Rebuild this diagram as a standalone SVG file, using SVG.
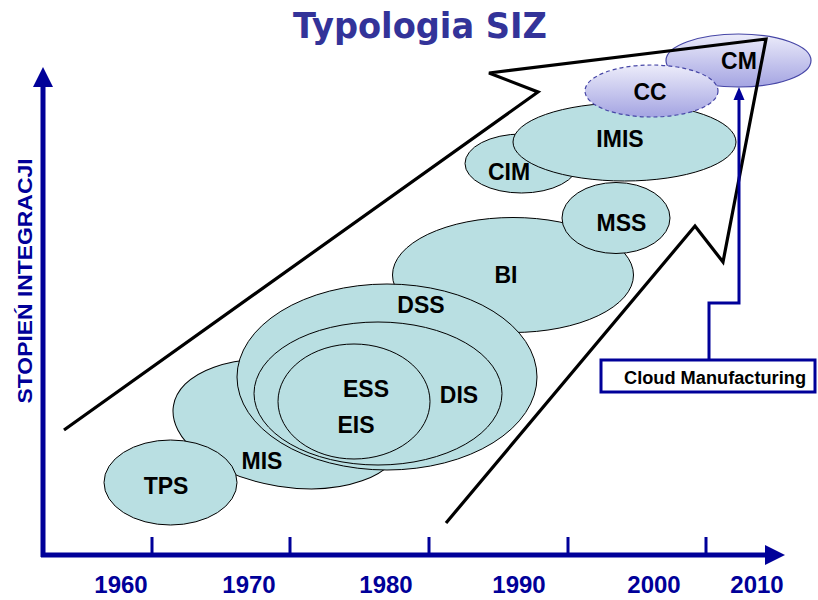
<svg xmlns="http://www.w3.org/2000/svg" width="818" height="600" viewBox="0 0 818 600">
  <defs>
    <linearGradient id="lav" x1="0" y1="0" x2="0" y2="1">
      <stop offset="0" stop-color="#ececfa"/>
      <stop offset="1" stop-color="#a4a4e2"/>
    </linearGradient>
    <marker id="arrowBlue" viewBox="0 0 10 10" refX="9" refY="5" markerWidth="4" markerHeight="4" orient="auto" markerUnits="strokeWidth">
      <path d="M0,0 L10,5 L0,10 z" fill="#000099"/>
    </marker>
    <style>
      .sys { fill: #b9dfe2; stroke: #000; stroke-width: 1; }
      .lav { fill: url(#lav); stroke: #4646a6; stroke-width: 1.2; }
      .lbl { font-family: "Liberation Sans", Arial, sans-serif; font-weight: bold; font-size: 23px; fill: #000; text-anchor: middle; }
      .year { font-family: "Liberation Sans", Arial, sans-serif; font-weight: bold; font-size: 24px; fill: #000099; text-anchor: middle; }
      .axis { stroke: #000099; stroke-width: 5; fill: none; }
      .tick { stroke: #000099; stroke-width: 3; }
    </style>
  </defs>

  <rect width="818" height="600" fill="#fff"/>

  <!-- title -->
  <text x="420" y="38" font-family="'DejaVu Sans', Verdana, sans-serif" font-weight="bold" font-size="35" fill="#333399" text-anchor="middle" textLength="254" lengthAdjust="spacingAndGlyphs">Typologia SIZ</text>

  <!-- axes -->
  <g id="axes">
    <line class="axis" x1="43" y1="557" x2="43" y2="84"/>
    <polygon points="43,67 33,87 53,87" fill="#000099"/>
    <line class="axis" x1="41" y1="555" x2="768" y2="555"/>
    <polygon points="785,555 765,545 765,565" fill="#000099"/>
    <line class="tick" x1="152" y1="537" x2="152" y2="555"/>
    <line class="tick" x1="290" y1="537" x2="290" y2="555"/>
    <line class="tick" x1="429" y1="537" x2="429" y2="555"/>
    <line class="tick" x1="568" y1="537" x2="568" y2="555"/>
    <line class="tick" x1="706" y1="537" x2="706" y2="555"/>
    <text class="year" x="121" y="593">1960</text>
    <text class="year" x="249" y="593">1970</text>
    <text class="year" x="386" y="593">1980</text>
    <text class="year" x="519" y="593">1990</text>
    <text class="year" x="654" y="593">2000</text>
    <text class="year" x="757" y="593">2010</text>
    <text transform="translate(32,281) rotate(-90)" font-family="'Liberation Sans', Arial, sans-serif" font-weight="bold" font-size="21" fill="#000099" text-anchor="middle" textLength="245" lengthAdjust="spacingAndGlyphs">STOPIEŃ INTEGRACJI</text>
  </g>

  <!-- systems -->
  <g id="mis">
    <ellipse class="sys" cx="288" cy="424" rx="116" ry="63" transform="rotate(9 288 424)"/>
  </g>
  <g id="tps">
    <ellipse class="sys" cx="170.5" cy="482.5" rx="66.5" ry="42.5"/>
  </g>
  <g id="bi">
    <ellipse class="sys" cx="513" cy="275" rx="120.5" ry="57.5"/>
  </g>
  <g id="mss">
    <ellipse class="sys" cx="616" cy="218" rx="54" ry="35.5"/>
  </g>
  <g id="dss">
    <ellipse class="sys" cx="387" cy="377" rx="150" ry="93"/>
  </g>
  <g id="dis">
    <ellipse class="sys" cx="378" cy="393.5" rx="124" ry="71.5"/>
  </g>
  <g id="ess-eis">
    <ellipse class="sys" cx="354" cy="401.5" rx="76" ry="57.5"/>
  </g>
  <g id="cim">
    <ellipse class="sys" cx="521.5" cy="163.5" rx="56.5" ry="29.5"/>
  </g>
  <g id="imis">
    <ellipse class="sys" cx="624.5" cy="142" rx="111.5" ry="39"/>
  </g>
  <g id="cm">
    <ellipse class="lav" cx="738.5" cy="60.5" rx="72.5" ry="26.5"/>
  </g>
  <g id="cc">
    <ellipse class="lav" cx="651.5" cy="91" rx="66.5" ry="26" stroke-dasharray="4 3"/>
  </g>

  <!-- labels -->
  <g id="labels">
    <text class="lbl" x="166" y="494">TPS</text>
    <text class="lbl" x="262" y="469">MIS</text>
    <text class="lbl" x="421" y="313">DSS</text>
    <text class="lbl" x="366" y="397">ESS</text>
    <text class="lbl" x="356" y="433">EIS</text>
    <text class="lbl" x="459" y="403">DIS</text>
    <text class="lbl" x="506" y="283">BI</text>
    <text class="lbl" x="621.5" y="231">MSS</text>
    <text class="lbl" x="509" y="180">CIM</text>
    <text class="lbl" x="620" y="147">IMIS</text>
    <text class="lbl" x="650" y="100">CC</text>
    <text class="lbl" x="739" y="69">CM</text>
  </g>

  <!-- connectors -->
  <g id="connectors">
    <polyline points="64,430 538,92 489,73 766,39 723,262 695,226 446,523" fill="none" stroke="#000" stroke-width="3.2" stroke-linejoin="miter"/>
    <polyline points="709,360 709,303 739,303 739,100" fill="none" stroke="#000099" stroke-width="3"/>
    <polygon points="739,87 733.5,100 744.5,100" fill="#000099"/>
  </g>

  <g id="cloud-manufacturing">
    <rect x="601" y="360" width="214" height="32" fill="#fff" stroke="#000099" stroke-width="3"/>
    <text x="715" y="384" font-family="'Liberation Sans', Arial, sans-serif" font-weight="bold" font-size="18" fill="#000" text-anchor="middle" textLength="182" lengthAdjust="spacingAndGlyphs">Cloud Manufacturing</text>
  </g>
</svg>
